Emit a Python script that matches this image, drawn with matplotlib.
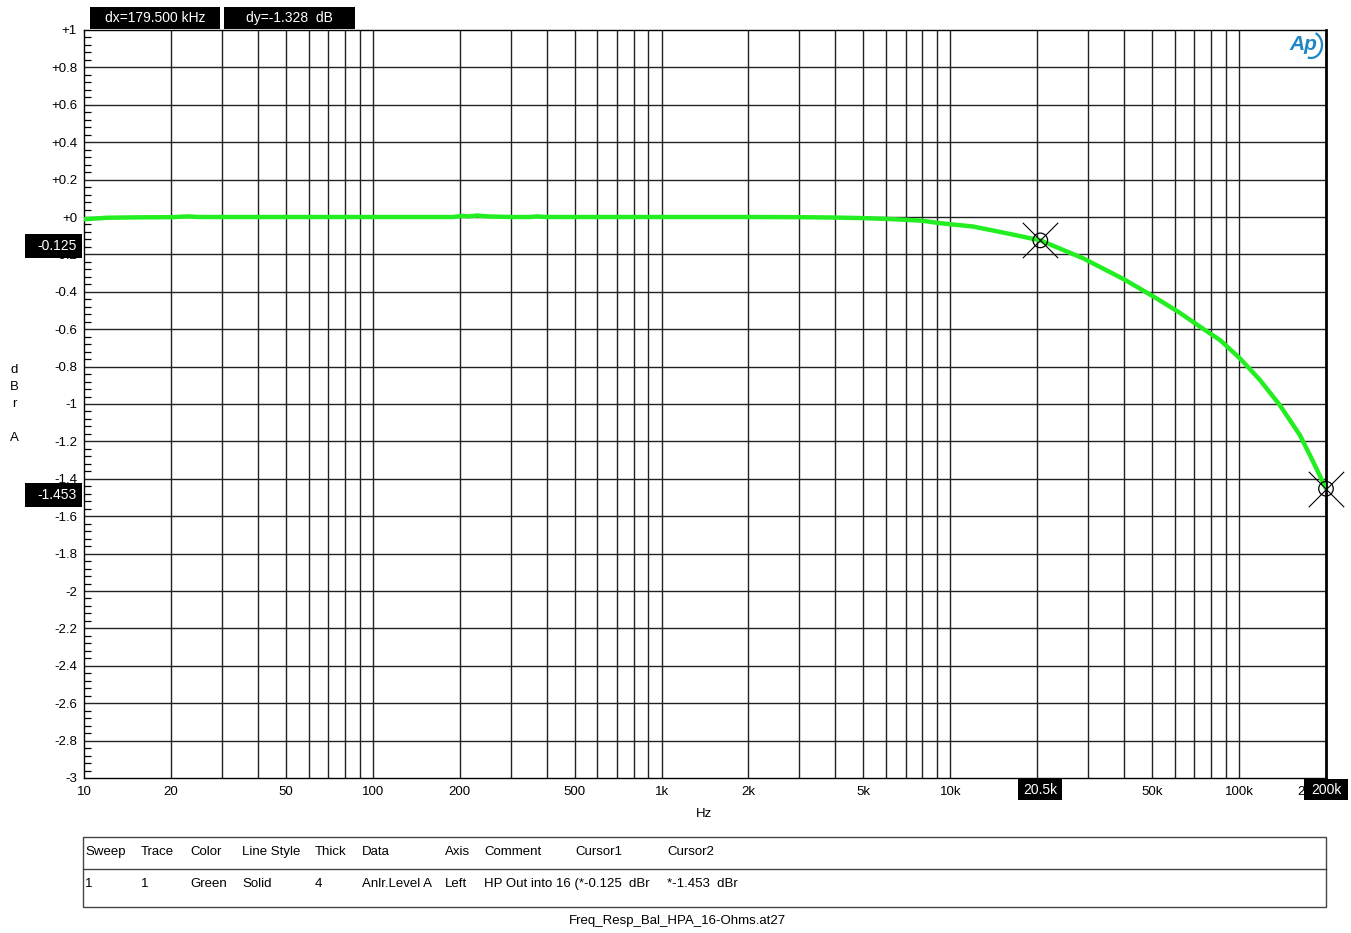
import numpy as np
import matplotlib.pyplot as plt
from matplotlib.patches import Rectangle, Arc
from matplotlib.transforms import blended_transform_factory
from matplotlib.ticker import FixedLocator, MultipleLocator, NullFormatter

plt.rcParams['font.family'] = ['Liberation Sans', 'DejaVu Sans']

# data (Hz, dBr)
freq = [10, 11, 12, 15, 20, 22, 23, 25, 30, 50, 100, 190, 205, 215, 230, 250,
        300, 350, 370, 400, 1000, 2000, 3000, 4000, 5000, 6000, 7000, 8000,
        9200, 12000, 15670, 20500, 28850, 40250, 51760, 62000, 73130, 85880,
        100700, 118000, 138400, 162500, 180700, 200000]
level = [-0.012, -0.008, -0.004, -0.002, -0.001, 0.002, 0.003, 0.0, 0.0, 0.0,
         0.0, 0.0, 0.006, 0.003, 0.008, 0.003, 0.0, 0.0, 0.003, 0.0, 0.0, 0.0,
         -0.001, -0.003, -0.006, -0.01, -0.015, -0.02, -0.033, -0.051, -0.087,
         -0.125, -0.221, -0.336, -0.435, -0.51, -0.586, -0.658, -0.756,
         -0.871, -1.006, -1.167, -1.31, -1.453]

cursor_f = [20500, 200000]
cursor_db = [-0.125, -1.453]

xticks = [10, 20, 50, 100, 200, 500, 1000, 2000, 5000, 10000, 20000, 50000,
          100000, 200000]
xticklabels = ['10', '20', '50', '100', '200', '500', '1k', '2k', '5k', '10k',
               '20k', '50k', '100k', '200k']
yticks = [1, 0.8, 0.6, 0.4, 0.2, 0, -0.2, -0.4, -0.6, -0.8, -1, -1.2, -1.4,
          -1.6, -1.8, -2, -2.2, -2.4, -2.6, -2.8, -3]
yticklabels = ['+1', '+0.8', '+0.6', '+0.4', '+0.2', '+0', '-0.2', '-0.4',
               '-0.6', '-0.8', '-1', '-1.2', '-1.4', '-1.6', '-1.8', '-2',
               '-2.2', '-2.4', '-2.6', '-2.8', '-3']

table_head = ['Sweep', 'Trace', 'Color', 'Line Style', 'Thick', 'Data', 'Axis',
              'Comment', 'Cursor1', 'Cursor2']
table_row = ['1', '1', 'Green', 'Solid', '4', 'Anlr.Level A', 'Left',
             'HP Out into 16 (*-0.125  dBr', '', '*-1.453  dBr']
col_x = [85, 141, 190, 242, 315, 362, 445, 484, 575, 667]

W, H = 1351, 933
fig = plt.figure(figsize=(W / 100, H / 100), dpi=100)


def px(x, y):
    return x / W, 1 - y / H


def black_box(x0, y0, x1, y1, txt, size=9.5, ha='center'):
    # box given in pixels from the top-left corner
    x, y = px(x0, y1)
    fig.patches.append(Rectangle((x, y), (x1 - x0) / W, (y1 - y0) / H,
                                 fc='black', ec='none', zorder=5,
                                 transform=fig.transFigure))
    tx = (x0 + x1) / 2 if ha == 'center' else x1 - 5
    fig.text(*px(tx, (y0 + y1) / 2), txt, color='white', fontsize=size,
             ha=ha, va='center', zorder=6)


l, b = px(84, 778)
r, t = px(1326, 30)
ax = fig.add_axes([l, b, r - l, t - b])

ax.set_xscale('log')
ax.set_xlim(10, 200000)
ax.set_ylim(-3, 1)

# grid
grid_f = [m * 10 ** e for e in range(1, 6) for m in range(1, 10)]
grid_f = [g for g in grid_f if 10 < g < 200000]
for g in grid_f:
    ax.axvline(g, color='#222222', lw=1.0, zorder=1)
for yv in yticks[1:-1]:
    ax.axhline(yv, color='#222222', lw=1.0, zorder=1)

ax.plot(freq, level, color='#22ee22', lw=3.2, solid_capstyle='round', zorder=3)

# cursors
ax.scatter(cursor_f, cursor_db, s=110, facecolors='none', edgecolors='black',
           linewidths=0.9, zorder=4, clip_on=False)
ax.scatter(cursor_f, cursor_db, s=650, marker='x', color='black',
           linewidths=0.8, zorder=4, clip_on=False)

ax.xaxis.set_major_locator(FixedLocator(xticks))
ax.set_xticklabels(xticklabels)
ax.get_xticklabels()[-1].set_ha('right')
ax.xaxis.set_minor_formatter(NullFormatter())
ax.tick_params(axis='x', which='both', length=0, pad=6, labelsize=9.5)
ax.set_yticks(yticks)
ax.set_yticklabels(yticklabels)
ax.yaxis.set_minor_locator(MultipleLocator(0.04))
ax.tick_params(axis='y', which='major', length=0, pad=5, labelsize=9.5)
ax.tick_params(axis='y', which='minor', direction='in', length=5, width=0.9)

for side in ['left', 'top', 'bottom']:
    ax.spines[side].set_linewidth(1.0)
ax.spines['right'].set_linewidth(2.0)

# cursor readouts on the left axis and on the frequency axis
for v in cursor_db:
    yd = H - ax.transData.transform((100, v))[1]
    black_box(25, yd - 6, 82, yd + 18, '%.3f' % v, size=10, ha='right')
for f in cursor_f:
    xd = ax.transData.transform((f, 0))[0]
    black_box(xd - 22, 779, xd + 22, 800, '%gk' % (f / 1000), size=10)

# delta boxes at top
dx_text = 'dx=%.3f kHz' % ((cursor_f[1] - cursor_f[0]) / 1000)
dy_text = 'dy=%.3f  dB' % (cursor_db[1] - cursor_db[0])
black_box(90, 7, 220, 29, dx_text, size=10)
black_box(224, 7, 355, 29, dy_text, size=10)

# axis labels
for ch, yy in zip('dBrA', [370, 387, 404, 438]):
    fig.text(*px(14, yy), ch, fontsize=9.5, ha='center', va='center')
fig.text(*px(704, 814), 'Hz', fontsize=9.5, ha='center', va='center')

# AP logo
fig.text(*px(1303, 45), 'Ap', ha='center', va='center', fontsize=15,
         fontstyle='italic', fontweight='bold', color='#1f86c6', zorder=6)
ax.add_patch(Arc(px(1311, 45), 22 / W, 26 / H, theta1=-100, theta2=75,
                 transform=fig.transFigure, color='#1f86c6', lw=1.6,
                 zorder=6))

# table
x, y = px(83, 907)
fig.patches.append(Rectangle((x, y), (1326 - 83) / W, 70 / H, fc='none',
                             ec='#444444', lw=1.0, transform=fig.transFigure))
fig.lines.append(plt.Line2D([83 / W, 1326 / W], [1 - 869 / H] * 2,
                            color='#444444', lw=1.0, transform=fig.transFigure))
for cx, h, v in zip(col_x, table_head, table_row):
    fig.text(*px(cx, 852), h, fontsize=9.5, ha='left', va='center')
    if v:
        fig.text(*px(cx, 884), v, fontsize=9.5, ha='left', va='center')

fig.text(*px(677, 921), 'Freq_Resp_Bal_HPA_16-Ohms.at27', fontsize=9.5,
         ha='center', va='center')

fig.savefig('out.png', dpi=100, facecolor='white')
